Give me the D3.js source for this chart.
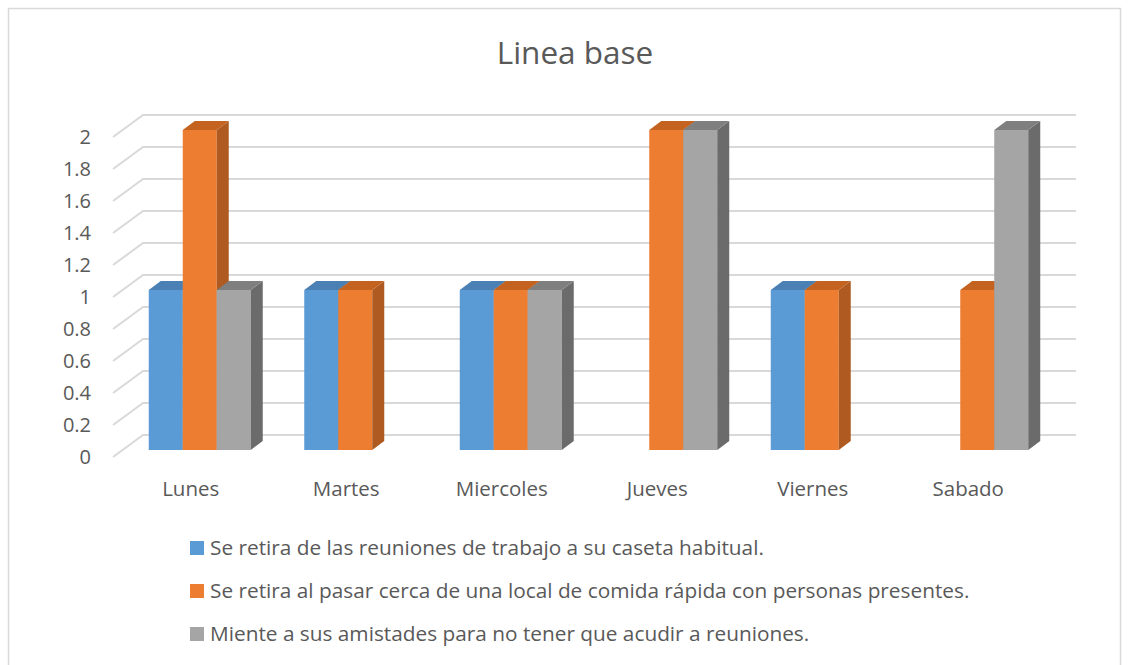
<!DOCTYPE html>
<html>
<head>
<meta charset="utf-8">
<script src="https://cdn.jsdelivr.net/npm/d3@7"></script>
<style>
  body { margin: 0; background: #fff; }
  text { font-family: "Open Sans", "Liberation Sans", sans-serif; fill: #595959; }
</style>
</head>
<body>
<script>
// data
const days = ["Lunes", "Martes", "Miercoles", "Jueves", "Viernes", "Sabado"];
const seriesNames = [
  "Se retira de las reuniones de trabajo a su caseta habitual.",
  "Se retira al pasar cerca de una local de comida rápida con personas presentes.",
  "Miente a sus amistades para no tener que acudir a reuniones."
];
const retiraTrabajo = [1, 1, 1, 0, 1, 0];
const retiraComida  = [2, 1, 1, 2, 1, 1];
const mienteAmigos  = [1, 0, 1, 2, 0, 2];
const yTicks = [0, 0.2, 0.4, 0.6, 0.8, 1, 1.2, 1.4, 1.6, 1.8, 2];

const colors = ["#5b9bd5", "#ed7d31", "#a5a5a5"];
const sides  = ["#41719c", "#ae5a21", "#6b6b6b"];
const tops   = ["#4a80b4", "#c4631f", "#7f7f7f"];

const W = 1131, H = 665;
const svg = d3.select("body").append("svg").attr("width", W).attr("height", H);

// chart border
svg.append("rect").attr("x", 8.5).attr("y", 8.5).attr("width", 1112).attr("height", 680)
  .attr("fill", "none").attr("stroke", "#d9d9d9").attr("stroke-width", 1.5);

svg.append("text").attr("x", 575).attr("y", 64).attr("text-anchor", "middle")
  .style("font-size", "31.5px").text("Linea base");

// 3D depth of the whole floor and the bars
const depth = {dx: 30, dy: -22};
const barOff = {dx: 9, dy: -7};
const barDepth = {dx: 12, dy: -9};

const x = d3.scaleBand().domain(days).range([113, 1046]);
const y = d3.scaleLinear().domain([0, 2]).range([457, 137]);
const x1 = d3.scaleBand().domain(d3.range(3)).range([0, 102]);

// back wall gridlines + side wall diagonals
const grid = svg.append("g").attr("stroke", "#d9d9d9").attr("stroke-width", 2).attr("fill", "none");
grid.selectAll("path").data(yTicks).enter().append("path")
  .attr("d", d => `M ${x.range()[0]} ${y(d)} L ${x.range()[0] + depth.dx} ${y(d) + depth.dy} L ${x.range()[1] + depth.dx} ${y(d) + depth.dy}`);

// y labels
svg.append("g").selectAll("text").data(yTicks).enter().append("text")
  .attr("x", 91).attr("y", d => y(d)).attr("dy", "0.35em").attr("text-anchor", "end")
  .style("font-size", "20px").text(d => d);

// bars
const rows = days.map((d, i) => ({day: d, vals: [retiraTrabajo[i], retiraComida[i], mienteAmigos[i]]}));
const groupW = 102;
const bars = svg.append("g");
rows.forEach(r => {
  const gx = x(r.day) + (x.bandwidth() - groupW) / 2 + barOff.dx;
  r.vals.forEach((v, s) => {
    if (v <= 0) return;
    const x0 = gx + x1(s), bw = x1.bandwidth();
    const yt = y(v) + barOff.dy, yb = y(0) + barOff.dy;
    const g = bars.append("g");
    g.append("rect").attr("x", x0).attr("y", yt).attr("width", bw).attr("height", yb - yt).attr("fill", colors[s]);
    g.append("path").attr("fill", sides[s])
      .attr("d", `M ${x0 + bw} ${yt} L ${x0 + bw + barDepth.dx} ${yt + barDepth.dy} L ${x0 + bw + barDepth.dx} ${yb + barDepth.dy} L ${x0 + bw} ${yb} Z`);
    g.append("path").attr("fill", tops[s])
      .attr("d", `M ${x0} ${yt} L ${x0 + barDepth.dx} ${yt + barDepth.dy} L ${x0 + bw + barDepth.dx} ${yt + barDepth.dy} L ${x0 + bw} ${yt} Z`);
  });
});

// category labels
svg.append("g").selectAll("text").data(days).enter().append("text")
  .attr("x", d => x(d) + x.bandwidth() / 2).attr("y", 496).attr("text-anchor", "middle")
  .style("font-size", "20.5px").text(d => d);

// legend
const leg = svg.append("g").selectAll("g").data(seriesNames).enter().append("g")
  .attr("transform", (d, i) => `translate(190, ${548 + i * 43})`);
leg.append("rect").attr("x", 0).attr("y", -7).attr("width", 14).attr("height", 14).attr("fill", (d, i) => colors[i]);
leg.append("text").attr("x", 20).attr("dy", "0.35em").style("font-size", "20.8px").text(d => d);
</script>
</body>
</html>
